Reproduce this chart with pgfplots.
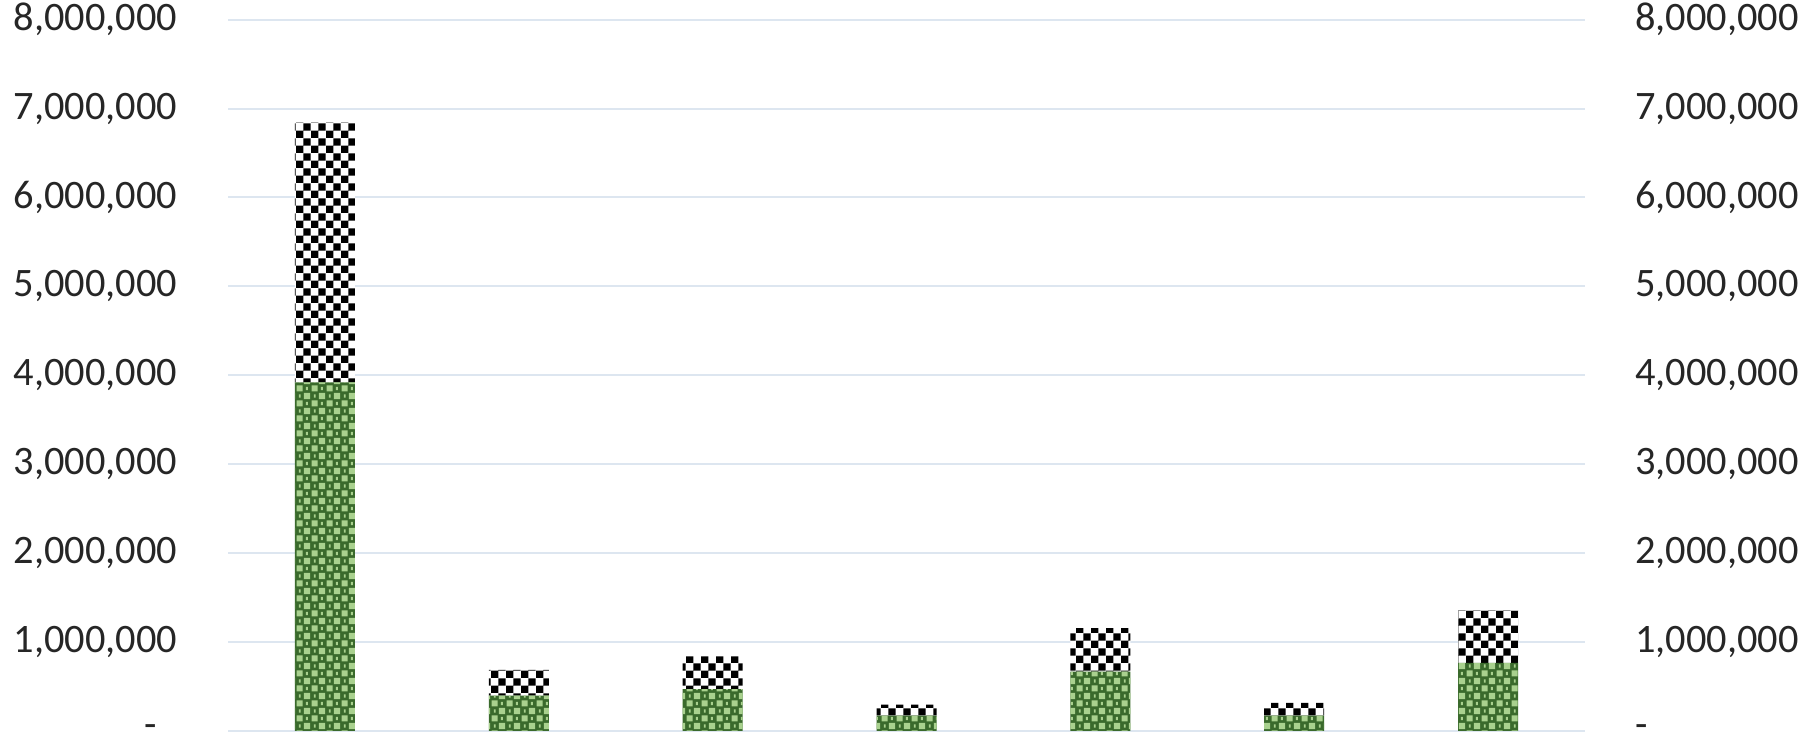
\documentclass[border=0pt]{standalone}
\usepackage{pgfplots}
\pgfplotsset{compat=1.18}
\usepackage{fontspec}
\setmainfont{Carlito}
\usetikzlibrary{patterns}
\pgfdeclarepatternformonly{fchk}{\pgfpointorigin}{\pgfqpoint{3.7pt}{3.7pt}}{\pgfqpoint{3.7pt}{3.7pt}}{%
  \pgfpathrectangle{\pgfpointorigin}{\pgfqpoint{1.85pt}{1.85pt}}%
  \pgfpathrectangle{\pgfqpoint{1.85pt}{1.85pt}}{\pgfqpoint{1.85pt}{1.85pt}}%
  \pgfusepath{fill}}
\pgfdeclarepatternformonly{gchk}{\pgfpointorigin}{\pgfqpoint{3.7pt}{3.7pt}}{\pgfqpoint{3.7pt}{3.7pt}}{%
  \pgfpathrectangle{\pgfqpoint{0.15pt}{0.15pt}}{\pgfqpoint{1.55pt}{1.55pt}}%
  \pgfpathrectangle{\pgfqpoint{2.0pt}{2.0pt}}{\pgfqpoint{1.55pt}{1.55pt}}%
  \pgfpathrectangle{\pgfqpoint{2.5pt}{0.5pt}}{\pgfqpoint{0.5pt}{0.8pt}}%
  \pgfpathrectangle{\pgfqpoint{0.7pt}{2.4pt}}{\pgfqpoint{0.5pt}{0.8pt}}%
  \pgfusepath{fill}}
\definecolor{gdark}{HTML}{3A6A2C}
\definecolor{glight}{HTML}{A9D18E}
\definecolor{gridc}{HTML}{DDE6F0}
\definecolor{txt}{HTML}{262626}
\begin{document}
\begin{tikzpicture}
\pgfplotsset{
  base/.style={
    scale only axis, width=339.25pt, height=177.8pt,
    xmin=-0.5, xmax=6.5, ymin=0, ymax=8000000,
    axis line style={draw=none},
    xtick=\empty,
    ytick={0,1000000,2000000,3000000,4000000,5000000,6000000,7000000,8000000},
    major tick length=0pt,
    tick label style={font=\fontsize{10.1pt}{12pt}\selectfont, text=txt},
    scaled y ticks=false,
  }
}
\begin{axis}[base,
  ymajorgrids, grid style={gridc, line width=0.5pt},
  yticklabels={-\hphantom{0},{1,000,000},{2,000,000},{3,000,000},{4,000,000},{5,000,000},{6,000,000},{7,000,000},{8,000,000}},
  yticklabel style={anchor=east, xshift=-9.2pt},
  ybar stacked, bar width=15pt,
]
\addplot[draw=none, fill=gdark, postaction={pattern=gchk, pattern color=glight}] coordinates {
(0,3920000) (1,395000) (2,470000) (3,170000) (4,667000) (5,170000) (6,765000)};
\addplot[draw=none, fill=white, postaction={pattern=fchk, pattern color=black}] coordinates {
(0,2920000) (1,291000) (2,366000) (3,124000) (4,489000) (5,143000) (6,591000)};
\end{axis}
\begin{axis}[base,
  yticklabels={-,{1,000,000},{2,000,000},{3,000,000},{4,000,000},{5,000,000},{6,000,000},{7,000,000},{8,000,000}},
  yticklabel pos=right,
  yticklabel style={anchor=west, xshift=9pt},
]
\end{axis}
\pgfresetboundingbox
\path (current axis.south west) ++(-57pt,-1.5pt) coordinate (bl);
\path (current axis.north east) ++(57.25pt,4.9pt) coordinate (tr);
\path[use as bounding box] (bl) rectangle (tr);
\end{tikzpicture}
\end{document}
